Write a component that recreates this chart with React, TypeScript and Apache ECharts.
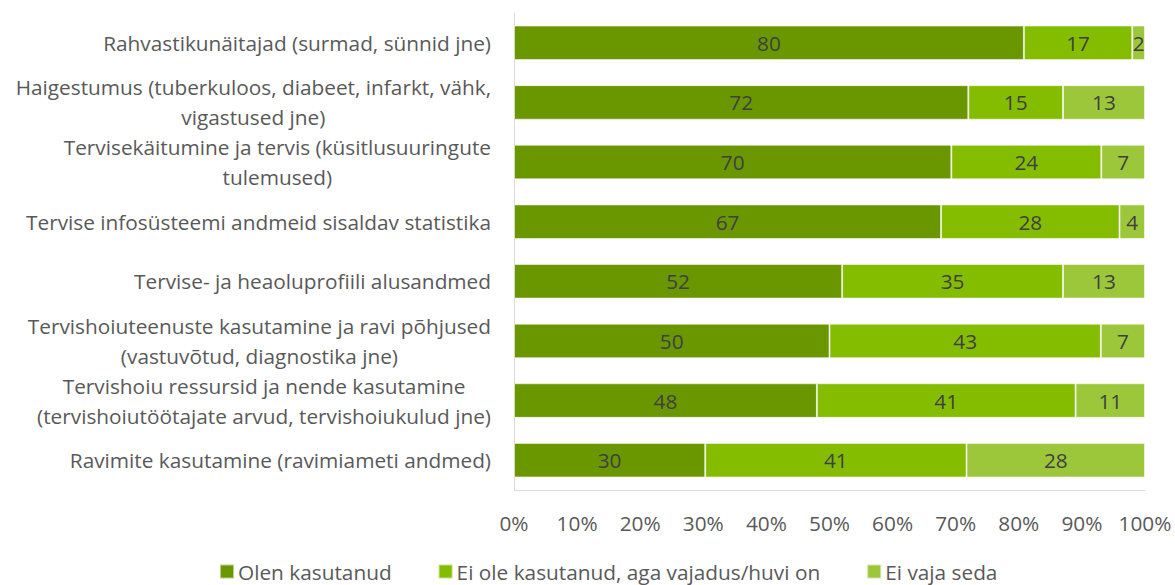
import React, { useEffect, useRef } from "react";
import * as echarts from "echarts";

const categories = [
  "Rahvastikunäitajad (surmad, sünnid jne)",
  "Haigestumus (tuberkuloos, diabeet, infarkt, vähk,\nvigastused jne)",
  "Tervisekäitumine ja tervis (küsitlusuuringute\ntulemused)",
  "Tervise infosüsteemi andmeid sisaldav statistika",
  "Tervise- ja heaoluprofiili alusandmed",
  "Tervishoiuteenuste kasutamine ja ravi põhjused\n(vastuvõtud, diagnostika jne)",
  "Tervishoiu ressursid ja nende kasutamine\n(tervishoiutöötajate arvud, tervishoiukulud jne)",
  "Ravimite kasutamine (ravimiameti andmed)",
];

const seriesNames = [
  "Olen kasutanud",
  "Ei ole kasutanud, aga vajadus/huvi on",
  "Ei vaja seda",
];

const used = [80, 72, 70, 67, 52, 50, 48, 30];
const needNotUsed = [17, 15, 24, 28, 35, 43, 41, 41];
const noNeed = [2, 13, 7, 4, 13, 7, 11, 28];

const xTicks = [0, 10, 20, 30, 40, 50, 60, 70, 80, 90, 100];

const colors = ["#6A9700", "#84BD00", "#9DC73A"];

const FONT = "'Open Sans', 'Noto Sans', sans-serif";
const FS = 20.8;

export default function App() {
  const ref = useRef<HTMLDivElement>(null);
  useEffect(() => {
    if (!ref.current) return;
    const chart = echarts.init(ref.current, null, { renderer: "svg" });
    const all = [used, needNotUsed, noNeed];
    const totals = categories.map((_, i) => all.reduce((s, arr) => s + arr[i], 0));
    const series = all.map((arr, si) => ({
      name: seriesNames[si],
      type: "bar",
      stack: "total",
      barCategoryGap: "42%",
      itemStyle: {
        color: colors[si],
        borderColor: "rgba(255,255,255,0.55)",
        borderWidth: 1,
      },
      label: {
        show: true,
        position: "inside",
        color: "#404040",
        fontSize: FS,
        fontFamily: FONT,
        formatter: (p: any) => String(p.data.raw),
      },
      data: arr.map((v, i) => ({ value: (v / totals[i]) * 100, raw: v })),
    }));
    chart.setOption({
      animation: false,
      backgroundColor: "#ffffff",
      textStyle: { fontFamily: FONT },
      grid: { left: 514, right: 30, top: 13, bottom: 95 },
      legend: {
        bottom: -2,
        left: 214,
        itemWidth: 14,
        itemHeight: 14,
        itemGap: 46,
        icon: "rect",
        textStyle: { fontSize: FS, color: "#595959", fontFamily: FONT, padding: [0, 0, 0, -1] },
        data: seriesNames,
      },
      xAxis: {
        type: "value",
        min: 0,
        max: 100,
        interval: 10,
        splitLine: { show: false },
        axisLine: { show: true, lineStyle: { color: "#D9D9D9", width: 1 } },
        axisTick: { show: false },
        axisLabel: {
          color: "#595959",
          fontSize: FS,
          fontFamily: FONT,
          margin: 22,
          formatter: (v: number) => (xTicks.includes(v) ? v + "%" : ""),
        },
      },
      yAxis: {
        type: "category",
        inverse: true,
        data: categories,
        axisLine: { show: true, lineStyle: { color: "#D9D9D9", width: 1 } },
        axisTick: { show: false },
        axisLabel: {
          margin: 23,
          align: "right",
          lineHeight: 30,
          formatter: (v: string) =>
            v
              .split("\n")
              .map((l) => "{a|" + l + "}")
              .join("\n"),
          rich: {
            a: {
              align: "center",
              color: "#595959",
              fontSize: FS,
              fontFamily: FONT,
              lineHeight: 30,
            },
          },
        },
      },
      series,
    });
    return () => chart.dispose();
  }, []);
  return (
    <div
      ref={ref}
      style={{ position: "fixed", left: 0, top: 0, width: 1175, height: 585 }}
    />
  );
}
